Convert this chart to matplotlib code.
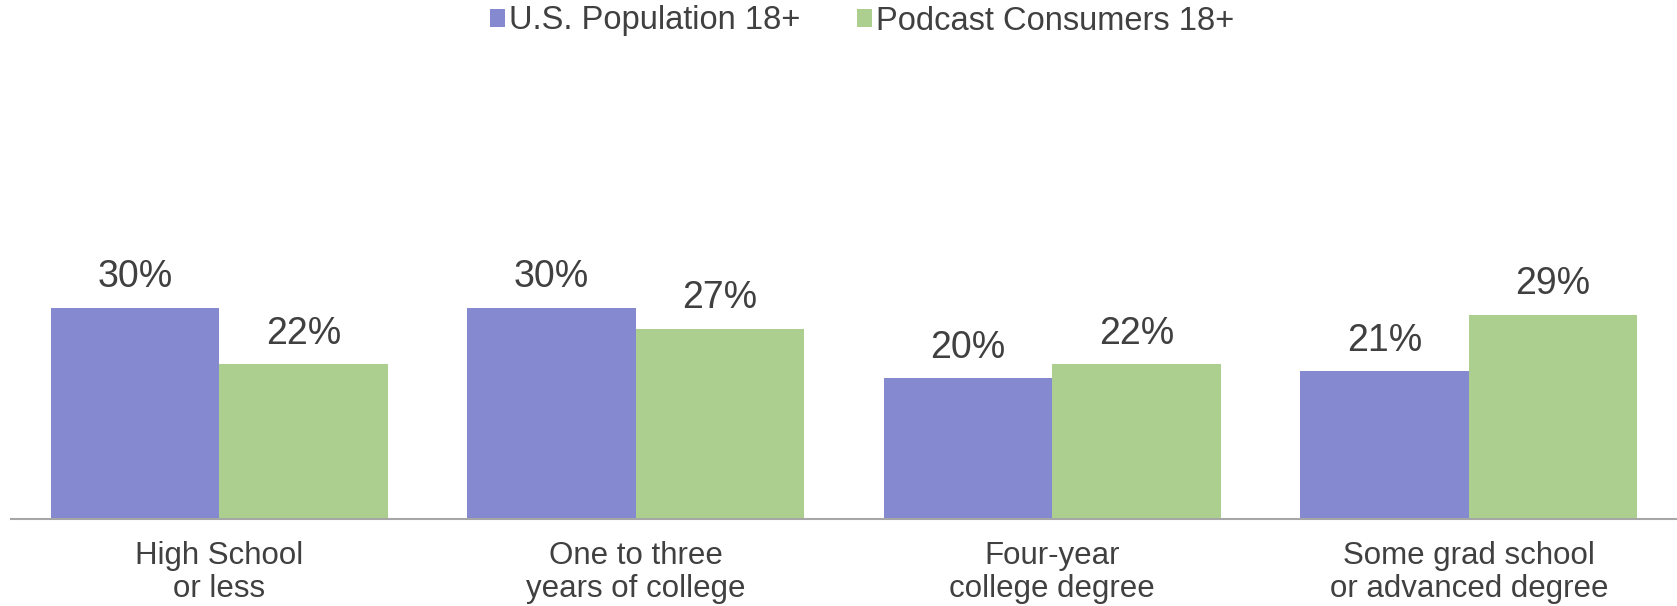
"""Education level: U.S. population vs. podcast consumers (grouped bars)."""

import matplotlib.pyplot as plt
from matplotlib.patches import Patch


categories = [
    "High School\nor less",
    "One to three\nyears of college",
    "Four-year\ncollege degree",
    "Some grad school\nor advanced degree",
]
us_population = [30, 30, 20, 21]
podcast_consumers = [22, 27, 22, 29]
series_names = ["U.S. Population 18+", "Podcast Consumers 18+"]

BLUE = "#8489D0"
GREEN = "#ACCF8F"
TEXT = "#404040"
AXIS = "#A6A6A6"

plt.rcParams["font.family"] = ["Liberation Sans", "DejaVu Sans"]

W, H = 1677, 606
fig = plt.figure(figsize=(W / 100, H / 100), dpi=100)

# axes box in pixels: baseline at y=519, left edge at x=11
left, base, top = 11, 519, 45
ax = fig.add_axes([left / W, (H - base) / H, (W - left) / W, (base - top) / H])

bar_w = 0.404
x = list(range(len(categories)))
for offset, values, color in [(-bar_w / 2, us_population, BLUE),
                              (bar_w / 2, podcast_consumers, GREEN)]:
    xs = [i + offset for i in x]
    ax.bar(xs, values, width=bar_w, color=color, linewidth=0, zorder=2)
    for xi, v in zip(xs, values):
        ax.annotate(f"{v}%", (xi, v), xytext=(0, 15), textcoords="offset points",
                    ha="center", va="baseline", fontsize=27, color=TEXT)

ax.set_xlim(-0.5, 3.5)
ax.set_ylim(0, (base - top) / 7.03)

ax.set_xticks(x)
ax.set_xticklabels(categories, fontsize=22.5, color=TEXT, linespacing=1.17)
ax.tick_params(axis="x", length=0, pad=15.5)
ax.set_yticks([])

for side in ["top", "right", "left"]:
    ax.spines[side].set_visible(False)
ax.spines["bottom"].set_color(AXIS)
ax.spines["bottom"].set_linewidth(1.5)
ax.spines["bottom"].set_zorder(3)

handles = [Patch(facecolor=BLUE, edgecolor="none"),
           Patch(facecolor=GREEN, edgecolor="none")]
fig.legend(handles, series_names, loc="center", ncol=2,
           bbox_to_anchor=(862 / W, 1 - 21 / H), frameon=False,
           fontsize=23.5, labelcolor=TEXT, handlelength=0.45, handleheight=0.5,
           handletextpad=0.12, columnspacing=1.75, borderpad=0, borderaxespad=0)

fig.savefig("out.png", dpi=100)
